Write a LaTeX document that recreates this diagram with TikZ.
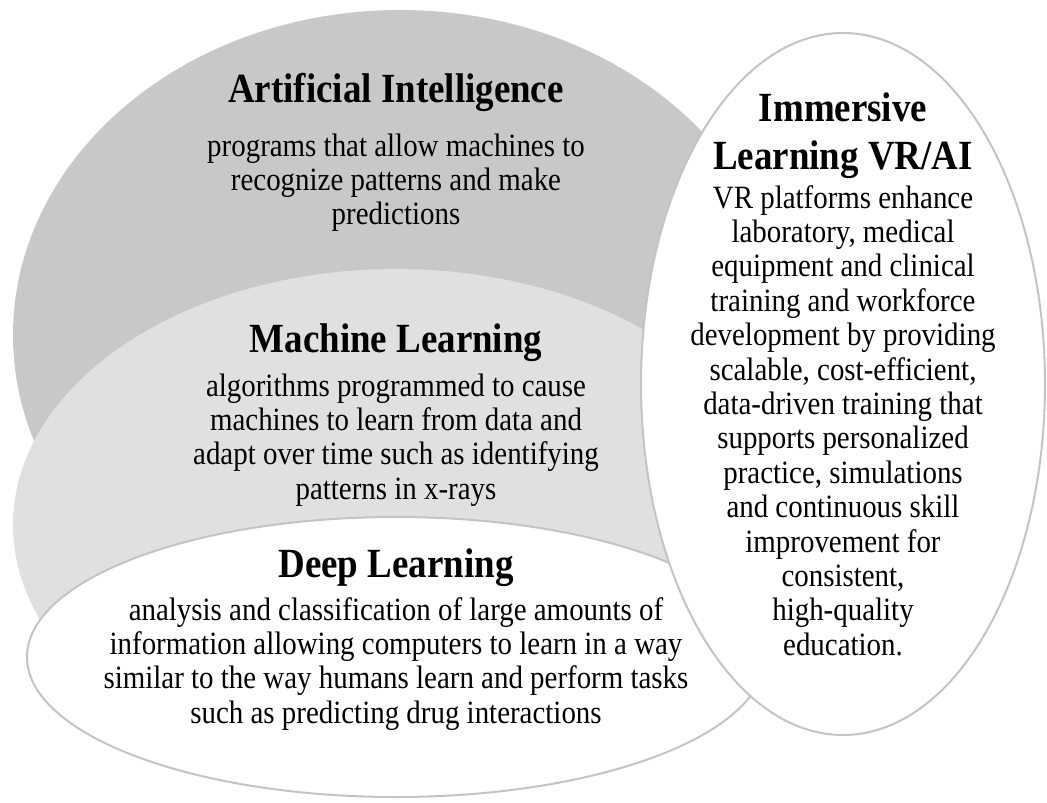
\documentclass[tikz,border=0pt]{standalone}
\usepackage{fontspec}
\setmainfont{Liberation Serif}
% slightly narrowed serif face, as the labels are set tall and tight
\newfontfamily\narrowserif[FakeStretch=0.89]{Liberation Serif}
\definecolor{aifill}{HTML}{C8C8C8}
\definecolor{mlfill}{HTML}{E0E0E0}
\definecolor{rimgray}{HTML}{C4C4C4}
\newcommand{\blocktext}[1]{\begin{tabular}[t]{@{}c@{}}#1\end{tabular}}
\tikzset{
  rim/.style={draw=rimgray, line width=2pt},
  heading/.style={anchor=base, inner sep=0pt, font=\narrowserif\fontsize{41.5}{48}\selectfont\bfseries},
  bodytext/.style={anchor=base, inner sep=0pt, font=\narrowserif\fontsize{32.5}{34.4}\selectfont},
}
\begin{document}
\begin{tikzpicture}[x=1pt, y=-1pt]
\useasboundingbox (0,0) rectangle (1047,803);

% nested circles of the hierarchy
\fill[aifill] (400,335) ellipse [x radius=387pt, y radius=325pt];
\fill[mlfill] (396,525) ellipse [x radius=383pt, y radius=256pt];
\filldraw[fill=white, rim] (396,657) ellipse [x radius=369pt, y radius=140pt];
% immersive learning oval on the right
\filldraw[fill=white, rim] (843,384) ellipse [x radius=202pt, y radius=351pt];

% Artificial Intelligence
\node[heading] (aiT) at (396,102) {Artificial Intelligence};
\node[bodytext] (aiB) at (396,156) {\blocktext{programs that allow machines to\\recognize patterns and make\\predictions}};

% Machine Learning
\node[heading] (mlT) at (396,352) {Machine Learning};
\node[bodytext] (mlB) at (396,396) {\blocktext{algorithms programmed to cause\\machines to learn from data and\\adapt over time such as identifying\\patterns in x-rays}};

% Deep Learning
\node[heading] (dlT) at (396,577) {Deep Learning};
\node[bodytext] (dlB) at (396,620) {\blocktext{analysis and classification of large amounts of\\information allowing computers to learn in a way\\similar to the way humans learn and perform tasks\\such as predicting drug interactions}};

% Immersive Learning
\node[heading] (imT) at (843,121) {\begin{tabular}[t]{@{}c@{}}Immersive\\Learning VR/AI\end{tabular}};
\node[bodytext] (imB) at (843,208) {\blocktext{VR platforms enhance\\laboratory, medical\\equipment and clinical\\training and workforce\\development by providing\\scalable, cost-efficient,\\data-driven training that\\supports personalized\\practice, simulations\\and continuous skill\\improvement for\\consistent,\\high-quality\\education.}};
\end{tikzpicture}
\end{document}
